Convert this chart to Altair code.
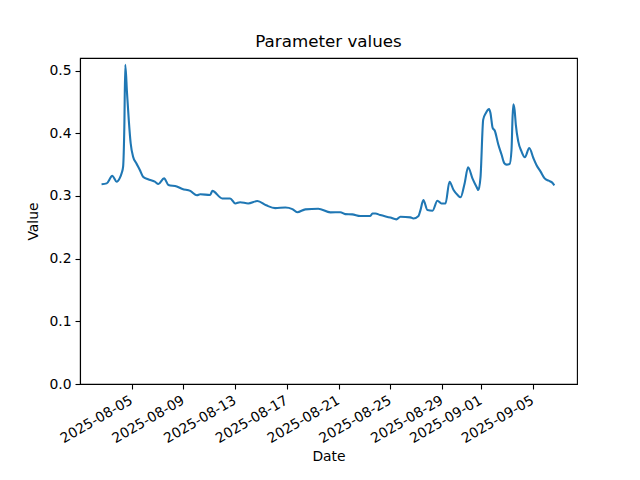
import altair as alt
import pandas as pd

dates = [
    "2025-08-02T16:00", "2025-08-03T01:30", "2025-08-03T12:00", "2025-08-03T20:00",
    "2025-08-04T01:30", "2025-08-04T05:30", "2025-08-04T08:00", "2025-08-04T10:15",
    "2025-08-04T12:00", "2025-08-04T15:15", "2025-08-04T18:30", "2025-08-04T22:00",
    "2025-08-05T02:30", "2025-08-05T08:30", "2025-08-05T15:00", "2025-08-05T21:00",
    "2025-08-06T06:15", "2025-08-06T18:45", "2025-08-07T01:30",
    "2025-08-07T12:00", "2025-08-07T20:00", "2025-08-08T11:30", "2025-08-08T22:00",
    "2025-08-09T12:30", "2025-08-10T01:00", "2025-08-10T07:00", "2025-08-11T01:30",
    "2025-08-11T05:30", "2025-08-11T23:45", "2025-08-12T14:30", "2025-08-13T00:00",
    "2025-08-13T09:00", "2025-08-14T00:00", "2025-08-14T17:00", "2025-08-15T09:30",
    "2025-08-16T02:00", "2025-08-16T21:00", "2025-08-17T10:00", "2025-08-17T19:00",
    "2025-08-18T10:00", "2025-08-19T10:00", "2025-08-20T08:30", "2025-08-21T03:00",
    "2025-08-21T12:00", "2025-08-22T01:00", "2025-08-22T16:00", "2025-08-23T10:30",
    "2025-08-23T14:30", "2025-08-23T20:00", "2025-08-24T05:00", "2025-08-24T23:45",
    "2025-08-25T11:00", "2025-08-25T18:30", "2025-08-26T13:00", "2025-08-26T18:30",
    "2025-08-27T04:00", "2025-08-27T07:30", "2025-08-27T13:00", "2025-08-27T20:30",
    "2025-08-28T06:00", "2025-08-28T15:00", "2025-08-28T22:30", "2025-08-29T06:00",
    "2025-08-29T13:30", "2025-08-29T21:00", "2025-08-30T04:30", "2025-08-30T10:00",
    "2025-08-30T17:30", "2025-08-31T00:00", "2025-08-31T08:00", "2025-08-31T15:30",
    "2025-08-31T19:00", "2025-08-31T23:00", "2025-09-01T04:00", "2025-09-01T09:00",
    "2025-09-01T15:00", "2025-09-01T17:30", "2025-09-01T21:30", "2025-09-02T01:30",
    "2025-09-02T08:00", "2025-09-02T14:00", "2025-09-02T19:00", "2025-09-02T23:15",
    "2025-09-03T05:00", "2025-09-03T08:30", "2025-09-03T10:30", "2025-09-03T12:00",
    "2025-09-03T14:15", "2025-09-03T16:30", "2025-09-03T21:00", "2025-09-04T03:00",
    "2025-09-04T09:15", "2025-09-04T17:30", "2025-09-05T01:00", "2025-09-05T07:00",
    "2025-09-05T14:30", "2025-09-05T22:00", "2025-09-06T05:30", "2025-09-06T11:00",
    "2025-09-06T16:00",
]
values = [
    0.3185, 0.320, 0.332, 0.3227,
    0.328, 0.337, 0.3467, 0.410,
    0.509, 0.464, 0.421, 0.384,
    0.3626, 0.352, 0.3414, 0.3307,
    0.3265, 0.3227, 0.319,
    0.328, 0.3175, 0.315, 0.311,
    0.308, 0.301, 0.3026, 0.3015,
    0.308, 0.296, 0.296, 0.288,
    0.290, 0.288, 0.2918, 0.285,
    0.2806, 0.2815, 0.279, 0.274,
    0.2786, 0.2796, 0.2738, 0.274,
    0.271, 0.2706, 0.268, 0.268,
    0.272, 0.272, 0.2695, 0.2655,
    0.2626, 0.2668, 0.2658, 0.264,
    0.268, 0.277, 0.2934, 0.2775,
    0.2764, 0.2923, 0.288, 0.288,
    0.3227, 0.3094, 0.3014, 0.2978,
    0.320, 0.3457, 0.328, 0.3147,
    0.3094, 0.330, 0.4217, 0.4324,
    0.4385, 0.432, 0.4085, 0.404,
    0.382, 0.366, 0.3525, 0.350,
    0.351, 0.3733, 0.4265, 0.4463,
    0.437, 0.4137, 0.387, 0.371,
    0.3617, 0.3765, 0.3605, 0.349,
    0.3387, 0.328, 0.3243, 0.322,
    0.317,
]
tick_dates = ["2025-08-05", "2025-08-09", "2025-08-13", "2025-08-17", "2025-08-21",
              "2025-08-25", "2025-08-29", "2025-09-01", "2025-09-05"]
y_ticks = [0.0, 0.1, 0.2, 0.3, 0.4, 0.5]

df = pd.DataFrame({"date": pd.to_datetime(dates), "value": values})

tick_vals = [alt.DateTime(year=int(d[:4]), month=int(d[5:7]), date=int(d[8:10])) for d in tick_dates]

font = "DejaVu Sans"

chart = alt.Chart(df).mark_line(color="#1f77b4", strokeWidth=2.1, interpolate="monotone").encode(
    x=alt.X("date:T",
            scale=alt.Scale(domain=[alt.DateTime(year=2025, month=8, date=1, hours=0),
                                    alt.DateTime(year=2025, month=9, date=8, hours=10)]),
            axis=alt.Axis(values=tick_vals, format="%Y-%m-%d", labelAngle=-30,
                          labelAlign="right", labelBaseline="top", title="Date",
                          labelOffset=-4)),
    y=alt.Y("value:Q",
            scale=alt.Scale(domain=[0, 0.52], nice=False, zero=False),
            axis=alt.Axis(values=y_ticks, format=".1f", title="Value")),
).properties(
    width=497, height=326,
    title=alt.TitleParams("Parameter values", fontSize=16.7, fontWeight="normal",
                          font=font, color="black", offset=7),
    autosize=alt.AutoSizeParams(type="none"),
    padding={"left": 72, "top": 50, "right": 55, "bottom": 88},
).configure_axis(
    grid=False, domainColor="black", domainWidth=1.1, tickColor="black", tickWidth=1.1,
    tickSize=5, labelFont=font, labelFontSize=13.9, labelColor="black", labelPadding=4,
    titleFont=font, titleFontSize=13.9, titleColor="black", titleFontWeight="normal",
    labelFlush=False, labelOverlap=False,
).configure_axisY(titlePadding=8).configure_axisX(titlePadding=4).configure_view(
    stroke="black", strokeWidth=1.1
)

chart.save("out.html", embed_options={"renderer": "svg", "actions": False})
